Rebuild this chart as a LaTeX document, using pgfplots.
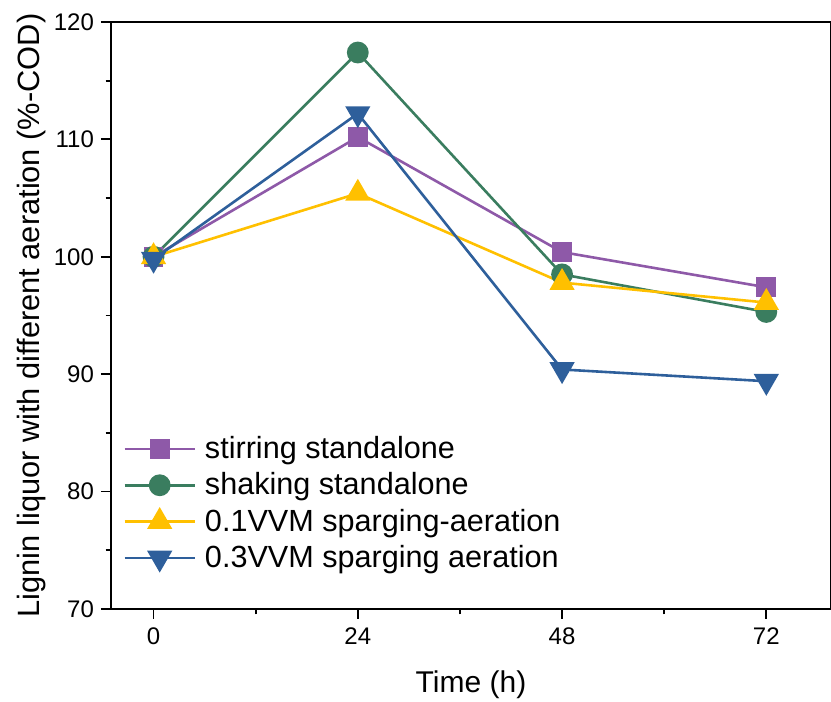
\documentclass[border=0pt]{standalone}
\usepackage{pgfplots}
\pgfplotsset{compat=1.18}
\usepackage{fontspec}
\setmainfont{Liberation Sans}
\definecolor{cpur}{RGB}{142,89,168}
\definecolor{cgrn}{RGB}{58,125,95}
\definecolor{cyel}{RGB}{255,192,0}
\definecolor{cblu}{RGB}{46,95,155}
\begin{document}
\begin{tikzpicture}
\begin{axis}[
  name=ax,
  scale only axis,
  width=360pt, height=293.5pt,
  xmin=-5, xmax=79.6, ymin=70, ymax=120,
  xtick={0,24,48,72}, minor xtick={12,36,60},
  ytick={70,80,90,100,110,120}, minor ytick={75,85,95,105,115},
  tick pos=left, tick align=outside,
  major tick length=5pt, minor tick length=2.7pt,
  every tick/.style={black, line width=0.9pt},
  axis line style={line width=1pt},
  /pgf/number format/assume math mode=true,
  ticklabel style={font=\fontsize{12}{14}\selectfont},
  xticklabel style={yshift=-1pt},
  xlabel={Time (h)}, ylabel={Lignin liquor with different aeration (\%-COD)},
  label style={font=\fontsize{15}{18}\selectfont},
  xlabel style={at={(axis description cs:0.5,0)}, anchor=center, yshift=-38pt},
  ylabel style={at={(axis description cs:0,0.5)}, anchor=center, rotate=0, yshift=39.5pt, font=\fontsize{15.4}{18}\selectfont},
  legend style={at={(axis description cs:0,0)}, anchor=south west, xshift=5pt, yshift=16pt, draw=none, fill=none,
    font=\fontsize{15.3}{18}\selectfont, row sep=1.6pt, column sep=2.5pt, inner sep=1pt},
  legend cell align=left,
  legend image code/.code={\draw[mark repeat=2, mark phase=2] plot coordinates {(0pt,0pt) (17.5pt,0pt) (35pt,0pt)};},
  every axis plot/.append style={line width=1.3pt},
]
\addplot[color=cpur, mark=square*, mark size=4.3pt, mark options={solid, fill=cpur}] coordinates {(0,100) (24,110.2) (48,100.4) (72,97.4)};
\addlegendentry{stirring standalone}
\addplot[color=cgrn, mark=*, mark size=4.8pt, mark options={solid, fill=cgrn}] coordinates {(0,100) (24,117.4) (48,98.5) (72,95.3)};
\addlegendentry{shaking standalone}
\addplot[color=cyel, mark=triangle*, mark size=6pt, mark options={solid, fill=cyel}] coordinates {(0,100) (24,105.4) (48,97.8) (72,96.1)};
\addlegendentry{0.1VVM sparging-aeration}
\addplot[color=cblu, mark=triangle*, mark size=6pt, mark options={solid, fill=cblu, rotate=180}] coordinates {(0,99.8) (24,112.2) (48,90.4) (72,89.4)};
\addlegendentry{0.3VVM sparging aeration}
\end{axis}
\pgfresetboundingbox
\path (ax.south west) ++(-55.5pt,-46.5pt) coordinate (bl);
\path (ax.north east) ++(-0.6pt,11pt) coordinate (tr);
\useasboundingbox (bl) rectangle (tr);
\end{tikzpicture}
\end{document}
